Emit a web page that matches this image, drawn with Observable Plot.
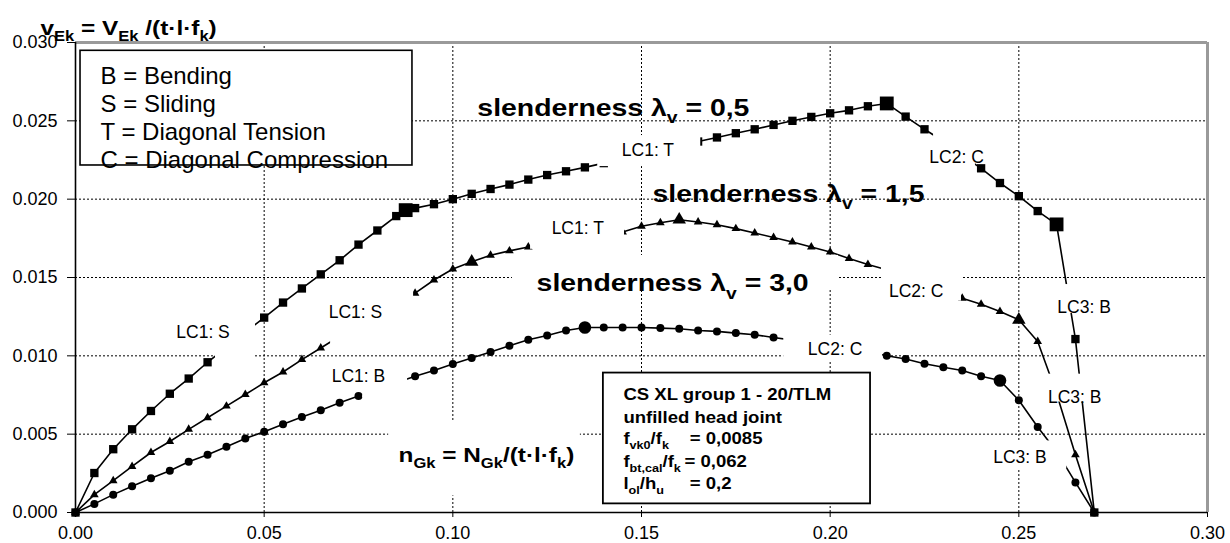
<!DOCTYPE html>
<html>
<head>
<meta charset="utf-8">
<script src="https://cdn.jsdelivr.net/npm/d3@7"></script>
<script src="https://cdn.jsdelivr.net/npm/@observablehq/plot@0.6"></script>
<style>
html,body{margin:0;padding:0;background:#fff;}
#chart{width:1230px;height:543px;}
</style>
</head>
<body>
<div id="chart"></div>
<script>
// ---------- data ----------
// normalised axial load n_Gk (x positions of every calculated point)
const nGk = [0, 0.005, 0.01, 0.015, 0.02, 0.025, 0.03, 0.035, 0.04, 0.045,
  0.05, 0.055, 0.06, 0.065, 0.07, 0.075, 0.08, 0.085, 0.09, 0.095,
  0.1, 0.105, 0.11, 0.115, 0.12, 0.125, 0.13, 0.135, 0.14, 0.145,
  0.15, 0.155, 0.16, 0.165, 0.17, 0.175, 0.18, 0.185, 0.19, 0.195,
  0.2, 0.205, 0.21, 0.215, 0.22, 0.225, 0.23, 0.235, 0.24, 0.245,
  0.25, 0.255, 0.26, 0.265, 0.27];

// normalised shear capacity v_Ek, slenderness 0,5 (squares)
const vEk_05 = [0, 0.00252, 0.00404, 0.00531, 0.00648, 0.00758, 0.00855, 0.00959, 0.01055, 0.0115,
  0.01244, 0.0134, 0.0143, 0.0152, 0.0161, 0.0171, 0.018, 0.01892, 0.01943, 0.01968,
  0.02, 0.02034, 0.02065, 0.02093, 0.02125, 0.02154, 0.02178, 0.02203, 0.0223, 0.02258,
  0.02285, 0.02313, 0.0234, 0.02368, 0.02394, 0.02421, 0.02446, 0.02474, 0.025, 0.02525,
  0.02548, 0.02567, 0.02593, 0.02611, 0.02527, 0.02446, 0.0237, 0.0228, 0.02197, 0.02103,
  0.02019, 0.01924, 0.01839, 0.01107, 0];

// slenderness 1,5 (triangles)
const vEk_15 = [0, 0.00114, 0.00203, 0.00294, 0.00383, 0.00453, 0.00531, 0.00605, 0.00679, 0.00753,
  0.00828, 0.00897, 0.00976, 0.0105, 0.01125, 0.012, 0.01272, 0.01338, 0.014, 0.01484,
  0.01554, 0.016, 0.01642, 0.0167, 0.01695, 0.0172, 0.0174, 0.0176, 0.01776, 0.0179,
  0.01827, 0.0185, 0.01869, 0.01854, 0.01837, 0.01812, 0.01784, 0.01755, 0.01727, 0.01695,
  0.01663, 0.01621, 0.01583, 0.0155, 0.0151, 0.01465, 0.0142, 0.01367, 0.01329, 0.01283,
  0.0123, 0.01092, 0.0076, 0.00368, 0];

// slenderness 3,0 (circles)
const vEk_30 = [0, 0.00055, 0.00114, 0.00167, 0.00218, 0.00267, 0.00324, 0.00368, 0.00419, 0.00472,
  0.00516, 0.00563, 0.0061, 0.00652, 0.007, 0.00743, 0.00786, 0.00828, 0.0087, 0.00906,
  0.00948, 0.00986, 0.01024, 0.01065, 0.01103, 0.0113, 0.01162, 0.01181, 0.01181, 0.01181,
  0.01181, 0.01177, 0.01173, 0.01162, 0.01156, 0.01145, 0.01135, 0.01117, 0.011, 0.01085,
  0.01068, 0.0105, 0.01027, 0.01001, 0.0098, 0.0095, 0.00927, 0.00906, 0.0087, 0.00843,
  0.00717, 0.00546, 0.0039, 0.00192, 0];

// load-case transition points (large markers)
const keyN_05 = [0.0875, 0.215, 0.26];
const keyV_05 = [0.0193, 0.02611, 0.01839];
const keyN_15 = [0.105, 0.16, 0.25];
const keyV_15 = [0.016, 0.01869, 0.0123];
const keyN_30 = [0.135, 0.245];
const keyV_30 = [0.01181, 0.00843];

// axes
const xTicks = [0, 0.05, 0.1, 0.15, 0.2, 0.25, 0.3];
const yTicks = [0, 0.005, 0.01, 0.015, 0.02, 0.025, 0.03];
const gridX = [0.05, 0.1, 0.15, 0.2, 0.25];
const gridY = [0.005, 0.01, 0.015, 0.02, 0.025];

// failure-mode labels on the curves
const modeText = ["LC1: S", "LC1: S", "LC1: B", "LC1: T", "LC1: T", "LC2: C", "LC2: C", "LC2: C", "LC3: B", "LC3: B", "LC3: B"];
const modeN = [0.0338, 0.0742, 0.075, 0.1517, 0.1331, 0.2335, 0.2228, 0.2013, 0.2673, 0.2648, 0.2503];
const modeV = [0.01148, 0.01275, 0.00871, 0.02313, 0.01813, 0.02266, 0.01412, 0.01039, 0.01307, 0.00737, 0.00352];

// white label boxes (in data units) that interrupt the curves
const maskN1 = [0.0371, 0.0676, 0.0761, 0.1384, 0.1206, 0.2274, 0.2136, 0.1877, 0.2584, 0.2574, 0.2425, 0.1505, 0.1158, 0.083];
const maskN2 = [0.0477, 0.0896, 0.088, 0.1657, 0.1455, 0.2385, 0.2348, 0.2139, 0.2748, 0.2717, 0.2627, 0.1869, 0.2022, 0.1338];
const maskV1 = [0.00985, 0.01062, 0.00731, 0.02208, 0.0168, 0.02208, 0.01349, 0.00966, 0.0127, 0.00705, 0.00278, 0.0252, 0.01425, 0.00106];
const maskV2 = [0.01234, 0.01425, 0.00954, 0.02406, 0.01896, 0.02443, 0.01591, 0.01132, 0.01455, 0.00883, 0.00457, 0.02781, 0.01641, 0.00584];

// slenderness titles
const titleText = ["slenderness λ_{v} = 0,5", "slenderness λ_{v} = 1,5", "slenderness λ_{v} = 3,0"];
const titleN = [0.1065, 0.1529, 0.1222];
const titleV = [0.02531, 0.01985, 0.01412];

// axis titles
const yTitle = "v_{Ek} = V_{Ek} /(t·l·f_{k})";
const xTitle = "n_{Gk} = N_{Gk}/(t·l·f_{k})";

// legend box
const legendText = ["B = Bending", "S = Sliding", "T = Diagonal Tension", "C = Diagonal Compression"];
const legendV = [0.02732, 0.02559, 0.02378, 0.02197];
const legendBoxN = [0.00133, 0.0893];
const legendBoxV = [0.02215, 0.02947];

// parameter box
const noteText = ["CS XL group 1 - 20/TLM", "unfilled head joint", "f_{vk0}/f_{k}", "f_{bt,cal}/f_{k}", "l_{ol}/h_{u}"];
const noteV = [0.00716, 0.00573, 0.00439, 0.00291, 0.00149];
const noteValueText = ["= 0,0085", "= 0,062", "= 0,2"];
const noteValueN = [0.1628, 0.1614, 0.1628];
const noteValueV = [0.00439, 0.00291, 0.00149];
const noteBoxN = [0.1399, 0.2107];
const noteBoxV = [0.00055, 0.0089];

// ---------- build ----------
const FONT = "'Liberation Sans', Arial, Helvetica, sans-serif";
const series = (ys) => nGk.map((x, i) => ({x, y: ys[i]}));
const pts = (xs, ys) => xs.map((x, i) => ({x, y: ys[i]}));
const txt = (ts, xs, ys) => ts.map((t, i) => ({text: t, x: Array.isArray(xs) ? xs[i] : xs, y: ys[i]}));
const masks = maskN1.map((d, i) => ({x1: d, x2: maskN2[i], y1: maskV1[i], y2: maskV2[i]}));

const lineOpt = {x: "x", y: "y", stroke: "#000", strokeWidth: 1.6};
const dotOpt = (symbol, r) => ({x: "x", y: "y", symbol, r, fill: "#000"});

const chart = Plot.plot({
  width: 1230, height: 543,
  marginLeft: 75, marginRight: 23, marginTop: 42, marginBottom: 31,
  style: {fontFamily: FONT, fontSize: "18px", background: "#fff", color: "#000", overflow: "visible"},
  x: {domain: [0, 0.3], ticks: xTicks, tickFormat: d3.format(".2f"), tickSize: 5, tickPadding: 9, label: null},
  y: {domain: [0, 0.03], ticks: yTicks, tickFormat: d3.format(".3f"), tickSize: 8, tickPadding: 10, label: null},
  marks: [
    Plot.ruleX(gridX, {stroke: "#000", strokeWidth: 1, strokeDasharray: "2,2"}),
    Plot.ruleY(gridY, {stroke: "#000", strokeWidth: 1, strokeDasharray: "2,2"}),
    Plot.ruleY([0.03], {stroke: "#9a9a9a", strokeWidth: 3}),
    Plot.ruleX([0.3], {stroke: "#9a9a9a", strokeWidth: 3}),
    Plot.ruleX([0], {stroke: "#000", strokeWidth: 1.6}),
    Plot.ruleY([0], {stroke: "#000", strokeWidth: 1.6}),

    Plot.line(series(vEk_05), lineOpt),
    Plot.line(series(vEk_15), lineOpt),
    Plot.line(series(vEk_30), lineOpt),
    Plot.dot(series(vEk_05), dotOpt("square", 4.7)),
    Plot.dot(series(vEk_15), dotOpt("triangle", 3.2)),
    Plot.dot(series(vEk_30), dotOpt("circle", 4)),
    Plot.dot(pts(keyN_05, keyV_05), dotOpt("square", 7.8)),
    Plot.dot(pts(keyN_15, keyV_15), dotOpt("triangle", 5)),
    Plot.dot(pts(keyN_30, keyV_30), dotOpt("circle", 6.3)),

    Plot.rect(masks, {x1: "x1", x2: "x2", y1: "y1", y2: "y2", fill: "#fff"}),
    Plot.rect([{x1: legendBoxN[0], x2: legendBoxN[1], y1: legendBoxV[0], y2: legendBoxV[1]}],
      {x1: "x1", x2: "x2", y1: "y1", y2: "y2", fill: "#fff", stroke: "#000", strokeWidth: 1.6}),
    Plot.rect([{x1: noteBoxN[0], x2: noteBoxN[1], y1: noteBoxV[0], y2: noteBoxV[1]}],
      {x1: "x1", x2: "x2", y1: "y1", y2: "y2", fill: "#fff", stroke: "#000", strokeWidth: 1.8}),

    Plot.text(txt(modeText, modeN, modeV), {x: "x", y: "y", text: "text", fontSize: 17.5, textAnchor: "middle", lineAnchor: "middle", fill: "#000"}),
    Plot.text(txt(legendText, 0.00663, legendV), {x: "x", y: "y", text: "text", fontSize: 24, textAnchor: "start", lineAnchor: "bottom", fill: "#000"}),
    Plot.text(txt(titleText, titleN, titleV), {x: "x", y: "y", text: "text", fontSize: 24.5, fontWeight: "bold", textAnchor: "start", lineAnchor: "bottom", fill: "#000"}),
    Plot.text(txt([yTitle, xTitle], [-0.00928, 0.0856], [0.03049, 0.00323]), {x: "x", y: "y", text: "text", fontSize: 21, fontWeight: "bold", textAnchor: "start", lineAnchor: "bottom", fill: "#000"}),
    Plot.text(txt(noteText, 0.1452, noteV), {x: "x", y: "y", text: "text", fontSize: 16, fontWeight: "bold", textAnchor: "start", lineAnchor: "bottom", fill: "#000"}),
    Plot.text(txt(noteValueText, noteValueN, noteValueV), {x: "x", y: "y", text: "text", fontSize: 16, fontWeight: "bold", textAnchor: "start", lineAnchor: "bottom", fill: "#000"})
  ]
});

document.getElementById("chart").appendChild(chart);

// subscripts ( _{...} ) and slightly wider bold lettering
const NS = "http://www.w3.org/2000/svg";
chart.querySelectorAll("text").forEach(t => {
  const bold = t.closest('[font-weight="bold"]');
  if (bold) {
    const tr = t.getAttribute("transform");
    if (tr) t.setAttribute("transform", tr + " scale(1.16,1)");
  }
  const s = t.textContent;
  if (!s.includes("_{")) return;
  const fs = parseFloat(getComputedStyle(t).fontSize);
  t.textContent = "";
  const re = /_\{([^}]*)\}/g;
  let last = 0, m, shifted = false;
  const add = (str, sub) => {
    const sp = document.createElementNS(NS, "tspan");
    sp.textContent = str;
    if (sub) { sp.setAttribute("font-size", (fs * 0.68).toFixed(2)); sp.setAttribute("dy", (fs * 0.3).toFixed(2)); }
    else if (shifted) sp.setAttribute("dy", (-fs * 0.3).toFixed(2));
    t.appendChild(sp);
    shifted = sub;
  };
  while ((m = re.exec(s))) {
    if (m.index > last) add(s.slice(last, m.index), false);
    add(m[1], true);
    last = re.lastIndex;
  }
  if (last < s.length) add(s.slice(last), false);
});
</script>
</body>
</html>
